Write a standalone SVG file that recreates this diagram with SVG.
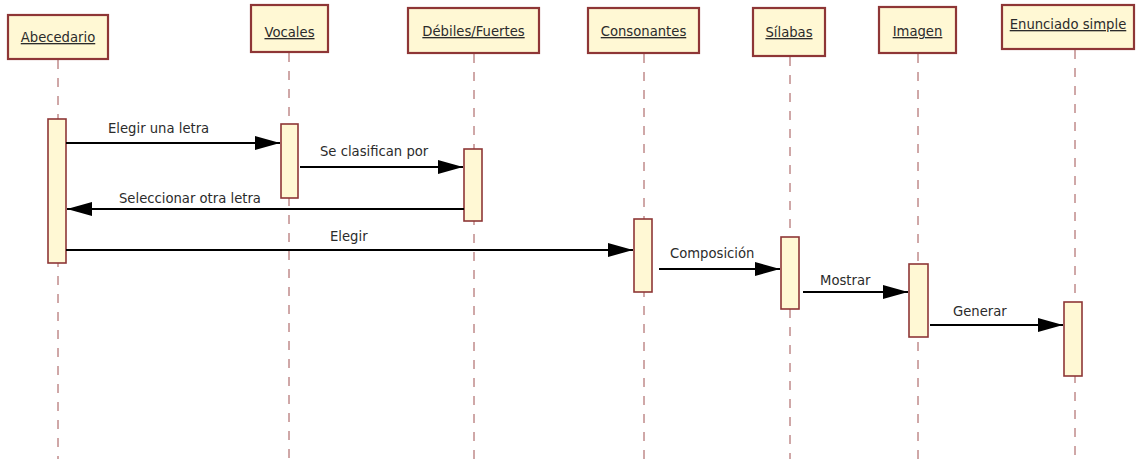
<svg xmlns="http://www.w3.org/2000/svg" width="1139" height="459" viewBox="0 0 1139 459">
<style>
.hdr{fill:#fff8d4;stroke:#8e3636;stroke-width:2.2}
.act{fill:#fff8d4;stroke:#8e3636;stroke-width:1.6}
.life{stroke:#a05050;stroke-width:1;stroke-dasharray:9 9;fill:none}
.name{font-family:"DejaVu Sans",sans-serif;font-size:13.2px;fill:#2b2b2b;text-anchor:middle;text-decoration:underline}
.msg{font-family:"DejaVu Sans",sans-serif;font-size:13.2px;fill:#2b2b2b}
.arr{stroke:#000;stroke-width:2;fill:none}
</style>
<defs>
<marker id="ah" markerWidth="26" markerHeight="16" refX="25" refY="8" orient="auto" markerUnits="userSpaceOnUse">
<path d="M0,1 L25,8 L0,15 Z" fill="#000"/>
</marker>
</defs>
<g id="abecedario">
<line class="life" x1="58" y1="60" x2="58" y2="459"/>
<rect class="hdr" x="8" y="15" width="100" height="44"/>
<text class="name" x="58" y="42">Abecedario</text>
<rect class="act" x="48" y="119" width="18" height="144"/>
</g>
<g id="vocales">
<line class="life" x1="289" y1="53" x2="289" y2="459"/>
<rect class="hdr" x="251" y="5" width="77" height="47"/>
<text class="name" x="289.5" y="37">Vocales</text>
<rect class="act" x="281" y="124" width="17" height="74"/>
</g>
<g id="debiles">
<line class="life" x1="474" y1="54" x2="474" y2="459"/>
<rect class="hdr" x="408" y="8" width="131" height="45"/>
<text class="name" x="473.5" y="36">Débiles/Fuertes</text>
<rect class="act" x="464" y="149" width="18" height="72"/>
</g>
<g id="consonantes">
<line class="life" x1="644" y1="54" x2="644" y2="459"/>
<rect class="hdr" x="588" y="8" width="111" height="45"/>
<text class="name" x="643.5" y="36">Consonantes</text>
<rect class="act" x="634" y="219" width="18" height="73"/>
</g>
<g id="silabas">
<line class="life" x1="790" y1="57" x2="790" y2="459"/>
<rect class="hdr" x="753" y="8" width="72" height="48"/>
<text class="name" x="789" y="37">Sílabas</text>
<rect class="act" x="781" y="237" width="18" height="72"/>
</g>
<g id="imagen">
<line class="life" x1="918" y1="54" x2="918" y2="459"/>
<rect class="hdr" x="879" y="7" width="77" height="46"/>
<text class="name" x="917.5" y="36">Imagen</text>
<rect class="act" x="909" y="264" width="19" height="73"/>
</g>
<g id="enunciado">
<line class="life" x1="1075" y1="50" x2="1075" y2="459"/>
<rect class="hdr" x="1002" y="5" width="132" height="44"/>
<text class="name" x="1068" y="29">Enunciado simple</text>
<rect class="act" x="1064" y="302" width="18" height="74"/>
</g>
<g id="connectors">
<line class="arr" x1="66" y1="143" x2="280" y2="143" marker-end="url(#ah)"/>
<text class="msg" x="108" y="133">Elegir una letra</text>
<line class="arr" x1="300" y1="167" x2="463" y2="167" marker-end="url(#ah)"/>
<text class="msg" x="320" y="156">Se clasifican por</text>
<line class="arr" x1="464" y1="209" x2="67" y2="209" marker-end="url(#ah)"/>
<text class="msg" x="119" y="203">Seleccionar otra letra</text>
<line class="arr" x1="66" y1="250" x2="633" y2="250" marker-end="url(#ah)"/>
<text class="msg" x="330" y="241">Elegir</text>
<line class="arr" x1="659" y1="269" x2="780" y2="269" marker-end="url(#ah)"/>
<text class="msg" x="670" y="258">Composición</text>
<line class="arr" x1="803" y1="292" x2="908" y2="292" marker-end="url(#ah)"/>
<text class="msg" x="820" y="285">Mostrar</text>
<line class="arr" x1="930" y1="325" x2="1063" y2="325" marker-end="url(#ah)"/>
<text class="msg" x="953" y="316">Generar</text>
</g>
</svg>
